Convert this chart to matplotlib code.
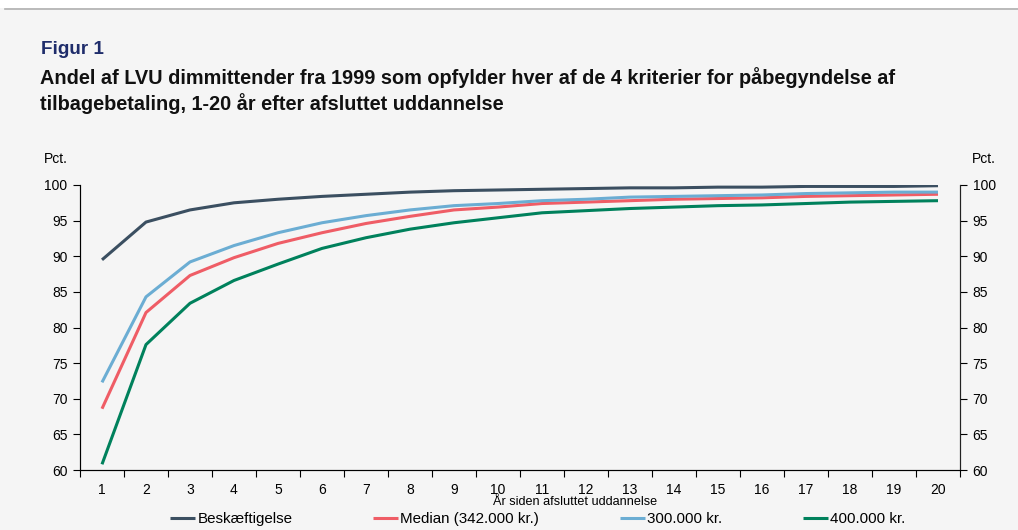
import matplotlib
matplotlib.use("Agg")
import matplotlib.pyplot as plt
from matplotlib.ticker import MultipleLocator

plt.rcParams["font.family"] = ["Liberation Sans", "DejaVu Sans"]

years = list(range(1, 21))
beskaeftigelse = [89.5, 94.8, 96.5, 97.5, 98.0, 98.4, 98.7, 99.0, 99.2, 99.3,
                  99.4, 99.5, 99.6, 99.6, 99.7, 99.7, 99.8, 99.8, 99.8, 99.9]
median = [68.6, 82.1, 87.3, 89.8, 91.8, 93.3, 94.6, 95.6, 96.5, 96.9,
          97.4, 97.6, 97.8, 98.0, 98.1, 98.2, 98.4, 98.5, 98.6, 98.7]
kr300 = [72.3, 84.3, 89.2, 91.5, 93.3, 94.7, 95.7, 96.5, 97.1, 97.4,
         97.8, 98.0, 98.3, 98.4, 98.5, 98.6, 98.8, 98.9, 99.0, 99.0]
kr400 = [60.8, 77.6, 83.4, 86.6, 88.9, 91.1, 92.6, 93.8, 94.7, 95.4,
         96.1, 96.4, 96.7, 96.9, 97.1, 97.2, 97.4, 97.6, 97.7, 97.8]

series = [
    ("Beskæftigelse", beskaeftigelse, "#3b4f61"),
    ("Median (342.000 kr.)", median, "#ef5d66"),
    ("300.000 kr.", kr300, "#6badd3"),
    ("400.000 kr.", kr400, "#00815c"),
]

bg = "#f5f5f5"
fig = plt.figure(figsize=(10.18, 5.30), dpi=100, facecolor=bg)

# white strip and grey rule at the very top
fig.patches.append(plt.Rectangle((0, 1 - 8 / 530), 1, 8 / 530, transform=fig.transFigure,
                                 facecolor="white", edgecolor="none", zorder=0))
fig.add_artist(plt.Line2D([5 / 1018, 1], [1 - 8.5 / 530] * 2, transform=fig.transFigure,
                          color="#b0b0b0", linewidth=1.2))

fig.text(41 / 1018, 1 - 49 / 530, "Figur 1", color="#1f2d6b", fontsize=13.6,
         fontweight="bold", va="center", ha="left")
fig.text(40 / 1018, 1 - 78 / 530,
         "Andel af LVU dimmittender fra 1999 som opfylder hver af de 4 kriterier for påbegyndelse af",
         color="#111111", fontsize=14.3, fontweight="bold", va="center", ha="left")
fig.text(40 / 1018, 1 - 104 / 530, "tilbagebetaling, 1-20 år efter afsluttet uddannelse",
         color="#111111", fontsize=14.3, fontweight="bold", va="center", ha="left")

ax = fig.add_axes([80 / 1018, 1 - 470 / 530, 880 / 1018, 285 / 530])
ax.set_facecolor(bg)

for label, vals, color in series:
    ax.plot(years, vals, color=color, linewidth=2.2, label=label, solid_capstyle="butt")

ax.set_xlim(0.5, 20.5)
ax.set_ylim(60, 100)
ax.set_xticks(years)
ax.xaxis.set_minor_locator(MultipleLocator(1, offset=0.5))
ax.tick_params(axis="x", which="major", length=0, labelsize=10, pad=9)
ax.tick_params(axis="x", which="minor", length=5, direction="out", width=0.8)
ax.yaxis.set_major_locator(MultipleLocator(5))
ax.tick_params(axis="y", length=5, width=0.8, labelsize=10, pad=4)

ax.spines["top"].set_visible(False)
for s in ["left", "bottom", "right"]:
    ax.spines[s].set_linewidth(0.8)
    ax.spines[s].set_color("#222222")

ax2 = ax.twinx()
ax2.set_ylim(60, 100)
ax2.yaxis.set_major_locator(MultipleLocator(5))
ax2.tick_params(axis="y", length=5, width=0.8, labelsize=10, pad=4)
ax2.spines["top"].set_visible(False)
ax2.spines["right"].set_linewidth(0.8)
ax2.spines["right"].set_color("#222222")

fig.text(44 / 1018, 1 - 159 / 530, "Pct.", fontsize=10, va="center", ha="left")
fig.text(972 / 1018, 1 - 159 / 530, "Pct.", fontsize=10, va="center", ha="left")

fig.text(575 / 1018, 1 - 502 / 530, "År siden afsluttet uddannelse", fontsize=9.1,
         va="center", ha="center")

handles, labels = ax.get_legend_handles_labels()
fig.legend(handles, labels, loc="center", bbox_to_anchor=(538 / 1018, 1 - 519 / 530),
           ncol=4, frameon=False, fontsize=10.9, handlelength=1.65, handletextpad=0.13,
           columnspacing=5.35, borderpad=0, borderaxespad=0)

fig.savefig("out.png", dpi=100, facecolor=bg)
